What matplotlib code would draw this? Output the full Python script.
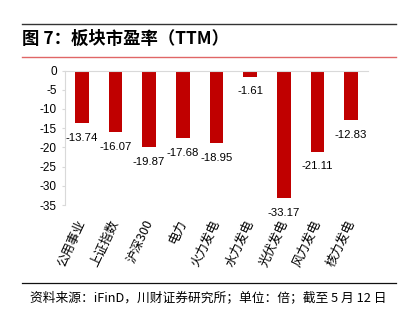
import matplotlib.pyplot as plt
from matplotlib.lines import Line2D

plt.rcParams['font.family'] = ['Noto Sans CJK SC', 'DejaVu Sans']

# sector P/E (TTM)
categories = ['公用事业', '上证指数', '沪深300', '电力', '火力发电', '水力发电', '光伏发电', '风力发电', '核力发电']
pe_values = [-13.74, -16.07, -19.87, -17.68, -18.95, -1.61, -33.17, -21.11, -12.83]
y_ticks = [0, -5, -10, -15, -20, -25, -30, -35]

title = '图 7：板块市盈率（TTM）'
source = '资料来源：iFinD，川财证券研究所；单位：倍；截至 5 月 12 日'

W, H = 402, 322
fig = plt.figure(figsize=(W / 100, H / 100), dpi=100)

# header / footer rules
fig.add_artist(Line2D([22 / W, 396 / W], [1 - 24 / H, 1 - 24 / H], color='#333333', lw=1.0))
fig.add_artist(Line2D([22 / W, 396 / W], [1 - 57 / H, 1 - 57 / H], color='#e06666', lw=1.0))
fig.add_artist(Line2D([22 / W, 396 / W], [1 - 283 / H, 1 - 283 / H], color='#111111', lw=0.9))
fig.text(22 / W, 1 - 39 / H, title, fontsize=12.5, fontweight='bold', va='center', ha='left')
fig.text(30 / W, 1 - 298 / H, source, fontsize=9.2, va='center', ha='left', style='italic')

ax = fig.add_axes([65 / W, 1 - 205 / H, (368 - 65) / W, (205 - 70.5) / H])
x = range(len(categories))
bars = ax.bar(x, pe_values, width=0.4, color='#c00000')

num_font = ['Liberation Sans', 'DejaVu Sans']
for xi, v in zip(x, pe_values):
    ax.annotate(f'{v:.2f}', (xi, v), xytext=(0, -7), textcoords='offset points',
                ha='center', va='top', fontsize=8.2, family=num_font)

ax.set_xlim(-0.5, len(categories) - 0.5)
ax.set_ylim(-35, 0)
ax.set_yticks(y_ticks)
ax.set_yticklabels([str(t) for t in y_ticks], family=num_font)
ax.tick_params(axis='y', labelsize=8.5, length=2, color='#d9d9d9', pad=4)
ax.set_xticks(list(x))
ax.set_xticklabels(categories, rotation=65, ha='right', va='center',
                   rotation_mode='anchor', fontsize=9)
ax.tick_params(axis='x', length=0, pad=11)

for s in ['right', 'bottom']:
    ax.spines[s].set_visible(False)
ax.spines['left'].set_color('#d9d9d9')
ax.spines['top'].set_color('#d9d9d9')

fig.savefig('out.png', dpi=100)
